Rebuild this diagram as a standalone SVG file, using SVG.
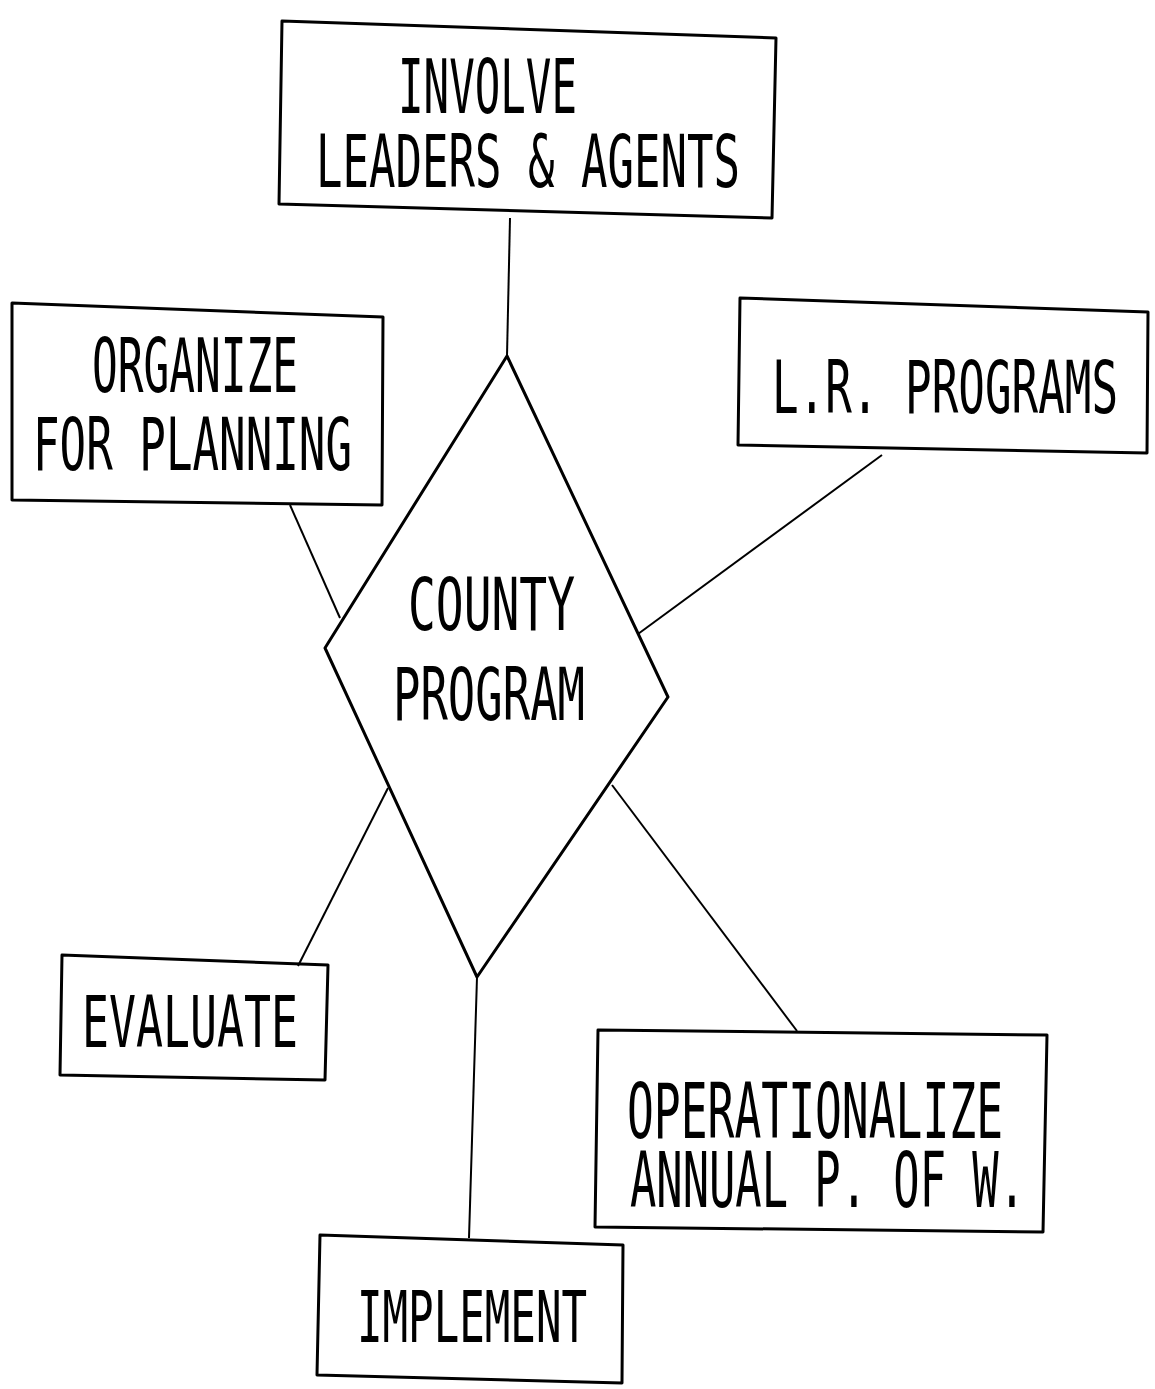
<svg xmlns="http://www.w3.org/2000/svg" width="1155" height="1389" viewBox="0 0 1155 1389">
<style>
.box{fill:none;stroke:#000;stroke-width:3;stroke-linejoin:round}
.con{fill:none;stroke:#000;stroke-width:2}
.t{font-family:"DejaVu Sans Mono","Liberation Mono",monospace;font-size:43px;fill:#000}
</style>
<rect width="1155" height="1389" fill="#fff"/>
<g id="connectors">
<line class="con" x1="510" y1="218" x2="507" y2="356"/>
<line class="con" x1="290" y1="505" x2="340" y2="618"/>
<line class="con" x1="882" y1="455" x2="638" y2="634"/>
<line class="con" x1="298" y1="966" x2="388" y2="788"/>
<line class="con" x1="797" y1="1031" x2="612" y2="785"/>
<line class="con" x1="469" y1="1238" x2="477" y2="977"/>
</g>
<g id="county-program">
<polygon class="box" points="507,356 668,697 477,977 325,648"/>
<text class="t" transform="translate(408 630) scale(1 1.7)" textLength="167" lengthAdjust="spacingAndGlyphs">COUNTY</text>
<text class="t" transform="translate(393 720) scale(1 1.7)" textLength="192" lengthAdjust="spacingAndGlyphs">PROGRAM</text>
</g>
<g id="involve">
<polygon class="box" points="282,21 776,38 772,218 279,204"/>
<text class="t" transform="translate(398 113) scale(1 1.75)" textLength="179" lengthAdjust="spacingAndGlyphs">INVOLVE</text>
<text class="t" transform="translate(316 187) scale(1 1.68)" textLength="424" lengthAdjust="spacingAndGlyphs">LEADERS &amp; AGENTS</text>
</g>
<g id="organize">
<polygon class="box" points="12,303 383,317 382,505 12,500"/>
<text class="t" transform="translate(92 392) scale(1 1.74)" textLength="206" lengthAdjust="spacingAndGlyphs">ORGANIZE</text>
<text class="t" transform="translate(33 470) scale(1 1.7)" textLength="319" lengthAdjust="spacingAndGlyphs">FOR PLANNING</text>
</g>
<g id="lr-programs">
<polygon class="box" points="740,298 1148,312 1147,453 738,445"/>
<text class="t" transform="translate(772 413) scale(1 1.7)" textLength="346" lengthAdjust="spacingAndGlyphs">L.R. PROGRAMS</text>
</g>
<g id="evaluate">
<polygon class="box" points="62,955 328,965 325,1080 60,1075"/>
<text class="t" transform="translate(82 1047) scale(1 1.66)" textLength="216" lengthAdjust="spacingAndGlyphs">EVALUATE</text>
</g>
<g id="operationalize">
<polygon class="box" points="598,1030 1047,1035 1043,1232 595,1227"/>
<text class="t" transform="translate(627 1138) scale(1 1.78)" textLength="376" lengthAdjust="spacingAndGlyphs">OPERATIONALIZE</text>
<text class="t" transform="translate(630 1207) scale(1 1.8)" textLength="395" lengthAdjust="spacingAndGlyphs">ANNUAL P. OF W.</text>
</g>
<g id="implement">
<polygon class="box" points="320,1235 623,1245 622,1383 317,1375"/>
<text class="t" transform="translate(357 1342) scale(1 1.66)" textLength="230" lengthAdjust="spacingAndGlyphs">IMPLEMENT</text>
</g>
</svg>
